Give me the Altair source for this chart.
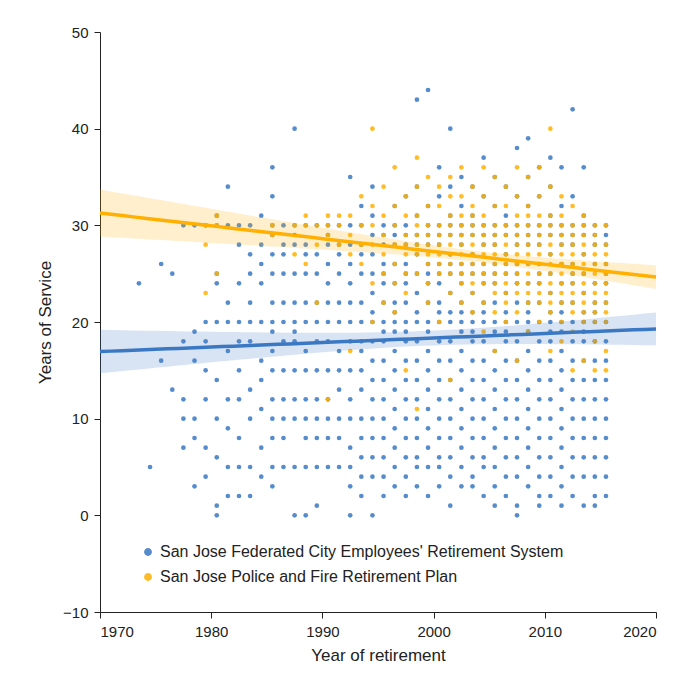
import altair as alt
import numpy as np
import pandas as pd

FCERS = "San Jose Federated City Employees' Retirement System"
PFRP = "San Jose Police and Fire Retirement Plan"

# years of service per retirement year
fcers = {
    1973: [24], 1974: [5], 1975: [16, 26], 1976: [25, 13],
    1977: [30, 7, 18, 10, 12], 1978: [30, 3, 10, 19, 8, 16],
    1979: [30, 12, 7, 4, 20, 15, 18],
    1980: [31, 0, 1, 6, 10, 14, 20, 24, 30, 25],
    1981: [34, 30, 20, 12, 9, 5, 2, 17, 22],
    1982: [30, 24, 20, 15, 12, 8, 5, 2, 18, 28],
    1983: [30, 27, 22, 18, 13, 10, 5, 2, 20, 25],
    1984: [31, 28, 24, 20, 16, 11, 7, 4, 26, 14],
    1985: [36, 33, 30, 27, 25, 22, 20, 17, 15, 12, 10, 8, 5, 3, 19, 29],
    1986: [30, 28, 25, 22, 20, 18, 15, 12, 10, 8, 5, 27],
    1987: [40, 30, 28, 25, 22, 20, 18, 15, 12, 10, 5, 0, 29, 19],
    1988: [30, 28, 25, 22, 20, 17, 15, 12, 10, 8, 5, 0, 27],
    1989: [30, 27, 25, 22, 20, 18, 15, 12, 10, 8, 5, 1],
    1990: [30, 28, 26, 24, 20, 18, 15, 12, 10, 8, 5, 29, 22],
    1991: [30, 28, 25, 22, 20, 17, 15, 13, 10, 8, 5, 27],
    1992: [35, 30, 28, 26, 22, 20, 18, 15, 12, 10, 7, 5, 3, 0, 24],
    1993: [32, 30, 28, 25, 22, 20, 18, 15, 13, 10, 8, 6, 4, 2, 27, 17],
    1994: [34, 31, 29, 27, 25, 23, 21, 20, 18, 16, 14, 12, 10, 8, 6, 4, 0],
    1995: [30, 28, 26, 24, 22, 20, 18, 16, 14, 12, 10, 8, 6, 4, 2, 19, 25, 29],
    1996: [32, 30, 28, 26, 24, 22, 20, 19, 17, 15, 13, 11, 9, 7, 5, 3, 21, 29],
    1997: [33, 30, 28, 26, 24, 22, 20, 18, 16, 14, 12, 10, 8, 6, 4, 2, 19, 25, 29],
    1998: [43, 34, 31, 29, 27, 25, 23, 21, 20, 18, 16, 14, 12, 10, 8, 6, 5, 3, 28],
    1999: [44, 32, 30, 28, 26, 24, 22, 20, 19, 17, 15, 13, 11, 9, 7, 5, 2, 25, 29],
    2000: [36, 33, 30, 28, 26, 24, 22, 20, 18, 16, 14, 12, 10, 8, 6, 5, 3, 21, 29, 25],
    2001: [40, 34, 31, 29, 27, 25, 23, 21, 20, 18, 16, 14, 12, 10, 8, 6, 4, 1, 30, 26],
    2002: [35, 32, 30, 28, 26, 24, 22, 20, 19, 17, 15, 13, 11, 9, 7, 5, 3, 21, 25, 29],
    2003: [34, 31, 29, 27, 25, 23, 21, 20, 18, 16, 14, 12, 10, 8, 6, 4, 3, 19, 30, 26],
    2004: [37, 33, 30, 28, 26, 24, 22, 20, 18, 16, 14, 12, 10, 8, 6, 5, 2, 21, 25, 29],
    2005: [35, 32, 30, 28, 26, 24, 22, 20, 19, 17, 15, 13, 11, 9, 7, 5, 3, 1, 29, 25],
    2006: [34, 31, 29, 27, 25, 23, 21, 20, 18, 16, 14, 12, 10, 8, 6, 4, 2, 19, 30, 26],
    2007: [38, 33, 30, 28, 26, 24, 22, 20, 18, 16, 14, 12, 10, 8, 6, 4, 1, 0, 25, 29],
    2008: [39, 35, 32, 30, 28, 26, 24, 22, 20, 19, 17, 15, 13, 11, 9, 7, 5, 3, 21, 29],
    2009: [36, 33, 30, 28, 26, 24, 22, 20, 18, 16, 14, 12, 10, 8, 6, 4, 2, 1, 25, 29],
    2010: [37, 34, 31, 29, 27, 25, 23, 21, 20, 18, 16, 14, 12, 10, 8, 6, 4, 2, 19, 30],
    2011: [36, 32, 30, 28, 26, 24, 22, 20, 19, 17, 15, 13, 11, 9, 7, 5, 3, 1, 21, 29],
    2012: [42, 33, 30, 28, 26, 24, 22, 20, 18, 16, 14, 12, 10, 8, 6, 4, 2, 25, 29],
    2013: [36, 31, 29, 27, 25, 23, 21, 20, 18, 16, 14, 12, 10, 8, 6, 4, 1, 19, 30],
    2014: [30, 28, 26, 24, 22, 20, 18, 16, 14, 12, 10, 8, 6, 4, 2, 1, 21, 29],
    2015: [30, 28, 26, 24, 22, 20, 18, 16, 14, 12, 10, 8, 6, 4, 2, 25, 29],
}
pfrp = {
    1979: [23, 28, 30], 1980: [30, 25, 31], 1985: [29, 30], 1987: [27, 30],
    1988: [26, 30, 31], 1989: [22, 28, 30], 1990: [31, 29, 12, 30], 1991: [30, 28, 31],
    1992: [31, 29, 27, 17], 1993: [33, 30, 28, 26], 1994: [40, 32, 30, 28, 24, 20],
    1995: [34, 31, 29, 27, 25, 22], 1996: [36, 32, 30, 28, 26, 24, 21],
    1997: [33, 31, 29, 28, 27, 25, 23, 15], 1998: [37, 34, 31, 30, 29, 28, 27, 25, 11],
    1999: [35, 32, 30, 29, 28, 27, 26, 24, 22], 2000: [34, 32, 30, 29, 28, 27, 26, 25, 20],
    2001: [35, 33, 31, 30, 29, 28, 27, 26, 25, 23, 14], 2002: [36, 33, 31, 30, 29, 28, 27, 26, 25, 24, 22],
    2003: [34, 32, 31, 30, 29, 28, 27, 26, 25, 24, 23, 21], 2004: [36, 33, 31, 30, 29, 28, 27, 26, 25, 24, 22, 19],
    2005: [35, 32, 30, 29, 28, 27, 26, 25, 24, 23, 21, 17], 2006: [34, 32, 30, 29, 28, 27, 26, 25, 24, 23, 22, 20],
    2007: [36, 33, 31, 30, 29, 28, 27, 26, 25, 24, 23, 21, 16], 2008: [35, 32, 31, 30, 29, 28, 27, 26, 25, 24, 23, 22, 19],
    2009: [36, 33, 31, 30, 29, 28, 27, 26, 25, 24, 23, 22, 20], 2010: [40, 34, 31, 30, 29, 28, 27, 26, 25, 24, 23, 22, 21, 17],
    2011: [33, 31, 30, 29, 28, 27, 26, 25, 24, 23, 22, 20, 18], 2012: [32, 30, 29, 28, 27, 26, 25, 24, 23, 22, 21, 19, 15],
    2013: [31, 30, 29, 28, 27, 26, 25, 24, 23, 22, 21, 20, 16], 2014: [30, 29, 28, 27, 26, 25, 24, 23, 22, 21, 20, 18, 15],
    2015: [30, 28, 27, 26, 25, 24, 23, 22, 21, 20, 15, 17],
}

rows = []
for name, d in [(FCERS, fcers), (PFRP, pfrp)]:
    for yr, vals in d.items():
        rows += [{"year": yr + 0.5, "service": v, "system": name} for v in vals]
pts = pd.DataFrame(rows)

# regression line and 95% confidence band per system
fit_rows = []
grid = np.linspace(1970, 2020, 51)
for name, g in pts.groupby("system"):
    x, y = g["year"].to_numpy(), g["service"].to_numpy(float)
    b, a = np.polyfit(x, y, 1)
    resid = y - (a + b * x)
    s = np.sqrt(resid @ resid / (len(x) - 2))
    se = s * np.sqrt(1 / len(x) + (grid - x.mean()) ** 2 / ((x - x.mean()) ** 2).sum())
    fit = a + b * grid
    for gx, f, e in zip(grid, fit, se):
        fit_rows.append({"year": gx, "fit": f, "lo": f - 1.96 * e, "hi": f + 1.96 * e, "system": name})
fits = pd.DataFrame(fit_rows)

color = alt.Color("system:N", scale=alt.Scale(domain=[FCERS, PFRP], range=["#3a78c3", "#ffb000"]),
                  title=None,
                  legend=alt.Legend(orient="none", legendX=40, legendY=512, labelFontSize=16,
                                    symbolType="circle", symbolSize=40, rowPadding=9, labelLimit=500))
xs = alt.Scale(domain=[1970, 2020], nice=False)
ys = alt.Scale(domain=[-10, 50], nice=False)

points = alt.Chart(pts).mark_circle(size=22, opacity=0.85).encode(
    x=alt.X("year:Q", scale=xs, title="Year of retirement",
            axis=alt.Axis(format="d", values=list(range(1970, 2021, 10)))),
    y=alt.Y("service:Q", scale=ys, title="Years of Service",
            axis=alt.Axis(values=list(range(-10, 51, 10)))),
    color=color,
)
band = alt.Chart(fits).mark_area(opacity=0.2).encode(
    x="year:Q", y="lo:Q", y2="hi:Q", color=alt.Color("system:N", legend=None))
line = alt.Chart(fits).mark_line(strokeWidth=3.5).encode(
    x="year:Q", y="fit:Q", color=alt.Color("system:N", legend=None))

chart = alt.layer(points, band, line).properties(
    width=556, height=580, autosize="none",
    padding={"left": 92, "top": 24, "right": 36, "bottom": 76},
    title=alt.Title("Years of Service at Retirement", fontSize=23, fontWeight="bold",
                    dx=-28, offset=-2, baseline="bottom", color="#222"),
).configure_view(stroke=None).configure_axis(
    grid=False, domainColor="#222", tickColor="#222", labelFontSize=15, titleFontSize=17,
    titleFontWeight="normal", labelColor="#222", titleColor="#222", tickSize=6,
    labelPadding=6, titlePadding=8,
    labelFont="Liberation Sans", titleFont="Liberation Sans",
).configure_legend(labelFont="Liberation Sans", labelColor="#222").configure_title(font="Liberation Sans")

chart.save("out.html", embed_options={"renderer": "svg", "actions": False})
